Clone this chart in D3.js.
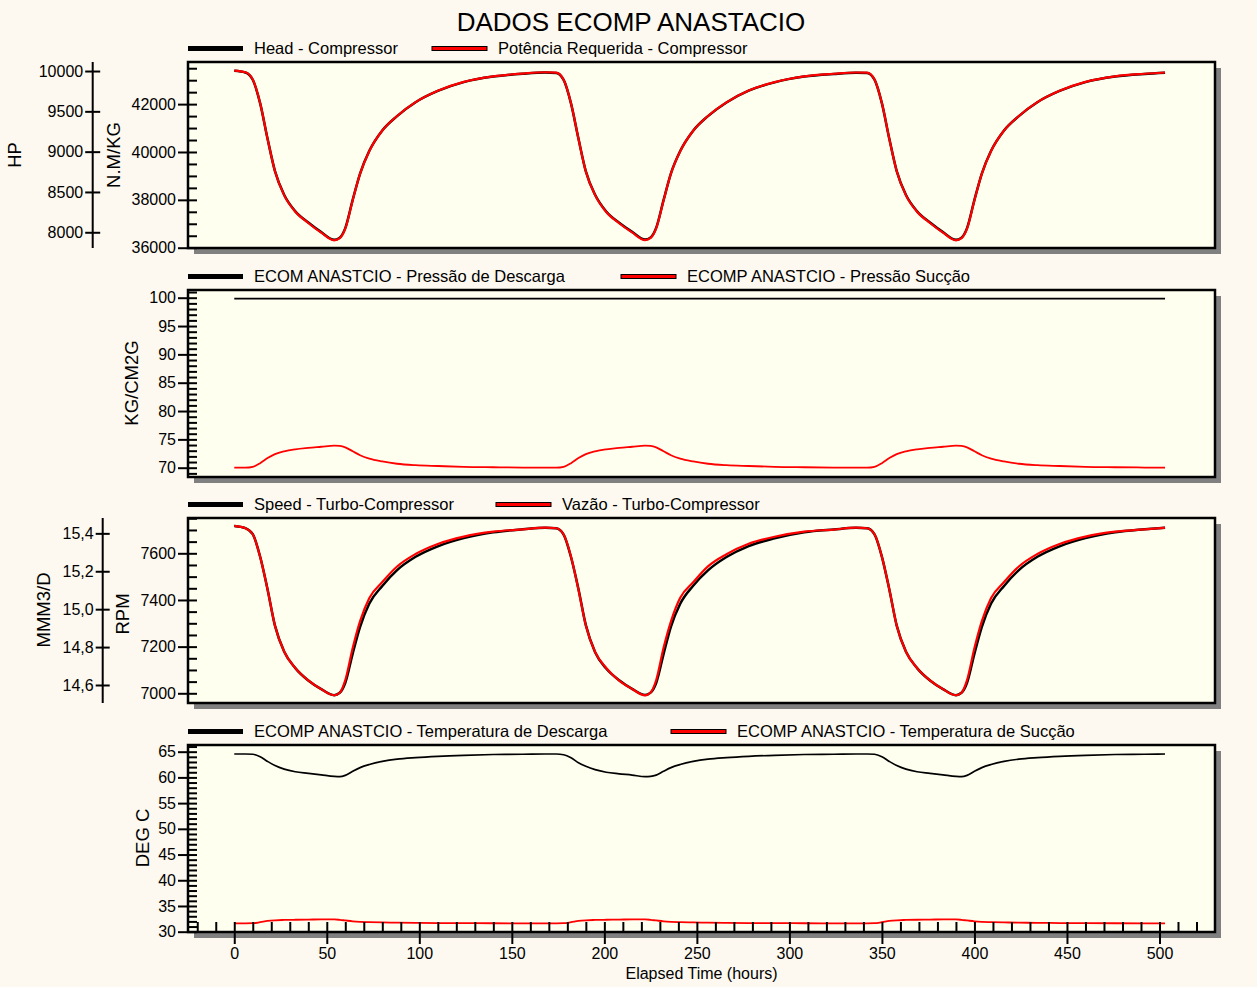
<!doctype html>
<html lang="pt">
  <head>
    <meta charset="utf-8">
    <title>DADOS ECOMP ANASTACIO</title>
    <script src="https://d3js.org/d3.v7.min.js"></script>
    <style>
      body { margin: 0; background: #fdf9f0; }
      svg { display: block; font-family: "Liberation Sans", Arial, sans-serif; }
    </style>
  </head>
  <body>
    <svg width="1257" height="987"></svg>
    <script>
      // ---- data ----
      var hours = [
        0, 6, 10, 14, 18, 22, 27, 33, 40, 47, 54, 57, 60, 64, 68, 73, 80, 88, 98, 110, 124, 140, 156,
        168, 174, 178, 182, 186, 190, 195, 201, 208, 215, 222, 225, 228, 232, 236, 241, 248, 256, 266, 278, 292, 308, 324,
        336, 342, 346, 350, 354, 358, 363, 369, 376, 383, 390, 393, 396, 400, 404, 409, 416, 424, 434, 446, 460, 476, 492, 503
      ];
      var headNmKg = [
        43390, 43320, 43020, 42030, 40550, 39200, 38200, 37520, 37050, 36650, 36330, 36420, 36820, 38000, 39100, 40050, 40900, 41500, 42080, 42550, 42920, 43150, 43270,
        43320, 43300, 43010, 42020, 40560, 39190, 38210, 37510, 37040, 36660, 36340, 36430, 36830, 37990, 39110, 40040, 40890, 41500, 42070, 42560, 42910, 43150, 43260,
        43310, 43300, 43020, 42030, 40550, 39200, 38200, 37520, 37050, 36650, 36330, 36420, 36820, 38000, 39100, 40050, 40900, 41500, 42080, 42550, 42920, 43150, 43260, 43310
      ];
      var potenciaHp = [
        10005, 9984, 9895, 9600, 9158, 8756, 8458, 8255, 8115, 7995, 7900, 7927, 8046, 8398, 8727, 9009, 9262, 9442, 9614, 9755, 9865, 9934, 9969,
        9985, 9980, 9892, 9597, 9161, 8753, 8461, 8252, 8112, 7998, 7903, 7930, 8049, 8395, 8730, 9006, 9259, 9442, 9611, 9758, 9862, 9934, 9966,
        9982, 9980, 9895, 9600, 9158, 8756, 8458, 8255, 8115, 7995, 7900, 7927, 8046, 8398, 8727, 9009, 9262, 9442, 9614, 9755, 9865, 9934, 9966, 9982
      ];
      var descargaHours = [0, 503];
      var pressaoDescarga = [99.85, 99.85];
      var pressaoSuccao = [
        70.0, 70.0, 70.15, 70.8, 71.7, 72.4, 72.9, 73.25, 73.5, 73.7, 73.9, 73.85, 73.6, 72.9, 72.2, 71.6, 71.1, 70.7, 70.45, 70.3, 70.15, 70.08, 70.03,
        70.0, 70.0, 70.15, 70.8, 71.7, 72.4, 72.9, 73.25, 73.5, 73.7, 73.9, 73.85, 73.6, 72.9, 72.2, 71.6, 71.1, 70.7, 70.45, 70.3, 70.15, 70.08, 70.03,
        70.0, 70.0, 70.15, 70.8, 71.7, 72.4, 72.9, 73.25, 73.5, 73.7, 73.9, 73.85, 73.6, 72.9, 72.2, 71.6, 71.1, 70.7, 70.45, 70.3, 70.15, 70.08, 70.03, 70.0
      ];
      var speedRpm = [
        7717, 7708, 7682, 7585, 7445, 7290, 7178, 7108, 7055, 7018, 6992, 7002, 7045, 7170, 7285, 7385, 7460, 7528, 7585, 7630, 7665, 7690, 7703,
        7710, 7707, 7680, 7583, 7447, 7292, 7176, 7106, 7056, 7019, 6993, 7003, 7044, 7168, 7286, 7384, 7461, 7527, 7584, 7631, 7664, 7690, 7702,
        7709, 7707, 7681, 7585, 7445, 7290, 7178, 7108, 7055, 7018, 6992, 7002, 7045, 7170, 7285, 7385, 7460, 7528, 7585, 7630, 7665, 7690, 7703, 7710
      ];
      var vazaoMmm3d = [
        15.439, 15.427, 15.395, 15.276, 15.104, 14.913, 14.775, 14.689, 14.624, 14.578, 14.546, 14.559, 14.626, 14.795, 14.937, 15.059, 15.143, 15.225, 15.291, 15.344, 15.383, 15.409, 15.421,
        15.430, 15.427, 15.394, 15.277, 15.103, 14.914, 14.774, 14.690, 14.623, 14.579, 14.545, 14.560, 14.625, 14.796, 14.936, 15.060, 15.142, 15.226, 15.290, 15.345, 15.382, 15.409, 15.420,
        15.430, 15.427, 15.395, 15.276, 15.104, 14.913, 14.775, 14.689, 14.624, 14.578, 14.546, 14.559, 14.626, 14.795, 14.937, 15.059, 15.143, 15.225, 15.291, 15.344, 15.383, 15.409, 15.421, 15.430
      ];
      var tempDescarga = [
        64.55, 64.55, 64.5, 64.0, 63.1, 62.3, 61.6, 61.1, 60.8, 60.5, 60.2, 60.15, 60.4, 61.2, 61.9, 62.5, 63.1, 63.55, 63.85, 64.1, 64.3, 64.45, 64.5,
        64.55, 64.55, 64.4, 63.8, 62.85, 62.15, 61.5, 61.0, 60.7, 60.45, 60.15, 60.2, 60.45, 61.2, 61.9, 62.5, 63.1, 63.55, 63.85, 64.1, 64.3, 64.45, 64.5,
        64.55, 64.55, 64.5, 64.0, 63.1, 62.3, 61.6, 61.1, 60.8, 60.5, 60.2, 60.15, 60.4, 61.2, 61.9, 62.5, 63.1, 63.55, 63.85, 64.1, 64.3, 64.45, 64.5, 64.55
      ];
      var tempSuccao = [
        31.63, 31.63, 31.65, 31.85, 32.1, 32.22, 32.28, 32.32, 32.35, 32.4, 32.38, 32.3, 32.18, 32.02, 31.92, 31.86, 31.8, 31.76, 31.72, 31.68, 31.66, 31.64, 31.63,
        31.63, 31.63, 31.65, 31.85, 32.1, 32.22, 32.28, 32.32, 32.35, 32.4, 32.38, 32.3, 32.18, 32.02, 31.92, 31.86, 31.8, 31.76, 31.72, 31.68, 31.66, 31.64, 31.63,
        31.63, 31.63, 31.65, 31.85, 32.1, 32.22, 32.28, 32.32, 32.35, 32.4, 32.38, 32.3, 32.18, 32.02, 31.92, 31.86, 31.8, 31.76, 31.72, 31.68, 31.66, 31.64, 31.63, 31.63
      ];

      // tick labels
      var xTicks = [0, 50, 100, 150, 200, 250, 300, 350, 400, 450, 500];
      var headTicks = [36000, 38000, 40000, 42000];
      var hpTicks = [8000, 8500, 9000, 9500, 10000];
      var pressTicks = [70, 75, 80, 85, 90, 95, 100];
      var rpmTicks = [7000, 7200, 7400, 7600];
      var vazaoTicks = [14.6, 14.8, 15.0, 15.2, 15.4];
      var tempTicks = [30, 35, 40, 45, 50, 55, 60, 65];

      var legendLabels = [
        ["Head - Compressor", "Potência Requerida - Compressor"],
        ["ECOM ANASTCIO - Pressão de Descarga", "ECOMP ANASTCIO - Pressão Sucção"],
        ["Speed - Turbo-Compressor", "Vazão - Turbo-Compressor"],
        ["ECOMP ANASTCIO - Temperatura de Descarga", "ECOMP ANASTCIO  - Temperatura de Sucção"]
      ];

      // ---- layout ----
      var svg = d3.select('svg'),
          frameLeft = 188,
          frameRight = 1215,
          legendX2 = [432, 621, 496, 671],
          frames = [
            {top: 62, bottom: 248},
            {top: 290, bottom: 477},
            {top: 518, bottom: 703},
            {top: 745, bottom: 932}
          ];

      var ptBR = d3.formatLocale({decimal: ",", thousands: ".", grouping: [3], currency: ["R$", ""]});

      svg.append("rect").attr("width", 1257).attr("height", 987).attr("fill", "#fdf9f0");

      var x = d3.scaleLinear().domain([-25, 530]).range([frameLeft, frameRight]);

      var yHead = d3.scaleLinear().domain([35988, 43760]).range([frames[0].bottom, frames[0].top]);
      var yHp = d3.scaleLinear().domain([7805, 10112]).range([frames[0].bottom, frames[0].top]);
      var yPress = d3.scaleLinear().domain([68.36, 101.36]).range([frames[1].bottom, frames[1].top]);
      var yRpm = d3.scaleLinear().domain([6958.4, 7751.3]).range([frames[2].bottom, frames[2].top]);
      var yVazao = d3.scaleLinear().domain([14.505, 15.481]).range([frames[2].bottom, frames[2].top]);
      var yTemp = d3.scaleLinear().domain([29.94, 66.3]).range([frames[3].bottom, frames[3].top]);

      function styleAxis(g) {
        g.attr("font-family", null).attr("font-size", 16);
        g.selectAll("line").attr("stroke", "#000").attr("stroke-width", 2);
        g.selectAll("text").attr("fill", "#000");
      }

      function drawFrame(f) {
        svg.append("rect")
          .attr("x", frameLeft + 6).attr("y", f.top + 6)
          .attr("width", frameRight - frameLeft).attr("height", f.bottom - f.top)
          .attr("fill", "#808080");
        svg.append("rect")
          .attr("x", frameLeft).attr("y", f.top)
          .attr("width", frameRight - frameLeft).attr("height", f.bottom - f.top)
          .attr("fill", "#fffff0");
      }

      function drawBorder(f) {
        svg.append("rect")
          .attr("x", frameLeft).attr("y", f.top)
          .attr("width", frameRight - frameLeft).attr("height", f.bottom - f.top)
          .attr("fill", "none").attr("stroke", "#000").attr("stroke-width", 2.5);
      }

      function leftAxis(y, major, step, fmt) {
        var d = y.domain();
        var g = svg.append("g").attr("transform", "translate(" + frameLeft + ",0)");
        g.call(d3.axisLeft(y).tickValues(major).tickSize(10).tickPadding(2).tickFormat(fmt));
        g.select(".domain").remove();
        styleAxis(g);
        var gi = svg.append("g").attr("transform", "translate(" + frameLeft + ",0)");
        gi.call(d3.axisRight(y).tickValues(d3.range(Math.ceil(d[0] / step) * step, d[1], step)).tickSize(9).tickFormat(""));
        gi.select(".domain").remove();
        styleAxis(gi);
      }

      function sideAxis(y, ticks, xLine, half, fmt) {
        var r = y.range();
        svg.append("line")
          .attr("x1", xLine).attr("x2", xLine)
          .attr("y1", r[1]).attr("y2", r[0])
          .attr("stroke", "#000").attr("stroke-width", 2);
        var g = svg.append("g").attr("transform", "translate(" + (xLine + half) + ",0)");
        g.call(d3.axisLeft(y).tickValues(ticks).tickSize(half * 2).tickPadding(2).tickFormat(fmt));
        g.select(".domain").remove();
        styleAxis(g);
      }

      function axisTitle(text, cx, cy) {
        svg.append("text")
          .attr("transform", "translate(" + cx + "," + cy + ") rotate(-90)")
          .attr("text-anchor", "middle")
          .attr("dy", "0.35em")
          .attr("font-size", 18.5)
          .text(text);
      }

      function drawLine(y, xs, ys, color, width) {
        var line = d3.line()
          .x(function(d) { return x(d[0]); })
          .y(function(d) { return y(d[1]); })
          .curve(d3.curveMonotoneX);
        svg.append("path")
          .datum(d3.zip(xs, ys))
          .attr("fill", "none")
          .attr("stroke", color)
          .attr("stroke-width", width)
          .attr("stroke-linejoin", "round")
          .attr("d", line);
      }

      function legend(i) {
        var yc = frames[i].top - 13.5;
        svg.append("rect").attr("x", frameLeft).attr("y", yc - 2.5).attr("width", 55).attr("height", 5).attr("fill", "#000");
        svg.append("text").attr("x", frameLeft + 66).attr("y", yc).attr("dy", "0.35em")
          .attr("font-size", 16.5).text(legendLabels[i][0]);
        svg.append("rect").attr("x", legendX2[i]).attr("y", yc - 2).attr("width", 55).attr("height", 4)
          .attr("fill", "#ff0000").attr("stroke", "#000").attr("stroke-width", 1);
        svg.append("text").attr("x", legendX2[i] + 66).attr("y", yc).attr("dy", "0.35em")
          .attr("font-size", 16.5).text(legendLabels[i][1]);
      }

      frames.forEach(drawFrame);

      // panel 1
      drawLine(yHead, hours, headNmKg, "#000", 2.5);
      drawLine(yHp, hours, potenciaHp, "#ff0000", 2.2);
      // panel 2
      drawLine(yPress, descargaHours, pressaoDescarga, "#000", 1.8);
      drawLine(yPress, hours, pressaoSuccao, "#ff0000", 1.8);
      // panel 3
      drawLine(yRpm, hours, speedRpm, "#000", 2.5);
      drawLine(yVazao, hours, vazaoMmm3d, "#ff0000", 2.2);
      // panel 4
      drawLine(yTemp, hours, tempDescarga, "#000", 1.7);
      drawLine(yTemp, hours, tempSuccao, "#ff0000", 1.8);

      frames.forEach(drawBorder);

      leftAxis(yHead, headTicks, 500, d3.format("d"));
      leftAxis(yPress, pressTicks, 1, d3.format("d"));
      leftAxis(yRpm, rpmTicks, 50, d3.format("d"));
      leftAxis(yTemp, tempTicks, 1, d3.format("d"));

      sideAxis(yHp, hpTicks, 92.7, 7.5, d3.format("d"));
      sideAxis(yVazao, vazaoTicks, 102.7, 7, ptBR.format(".1f"));

      axisTitle("HP", 15, 155);
      axisTitle("N.M/KG", 114, 155);
      axisTitle("KG/CM2G", 132, 383);
      axisTitle("MMM3/D", 44, 610);
      axisTitle("RPM", 123, 614);
      axisTitle("DEG C", 143, 838);

      // x axis on bottom panel
      var xb = frames[3].bottom;
      var gx = svg.append("g").attr("transform", "translate(0," + xb + ")");
      gx.call(d3.axisBottom(x).tickValues(xTicks).tickSize(12).tickPadding(4).tickFormat(d3.format("d")));
      gx.select(".domain").remove();
      styleAxis(gx);
      var gxi = svg.append("g").attr("transform", "translate(0," + xb + ")");
      gxi.call(d3.axisTop(x).tickValues(d3.range(-20, 521, 10)).tickSize(10).tickFormat(""));
      gxi.select(".domain").remove();
      styleAxis(gxi);

      svg.append("text")
        .attr("x", (frameLeft + frameRight) / 2).attr("y", 979)
        .attr("text-anchor", "middle").attr("font-size", 16)
        .text("Elapsed Time (hours)");

      frames.forEach(function(f, i) { legend(i); });

      svg.append("text")
        .attr("x", 631).attr("y", 31)
        .attr("text-anchor", "middle").attr("font-size", 26)
        .text("DADOS ECOMP ANASTACIO");
    </script>
  </body>
</html>
